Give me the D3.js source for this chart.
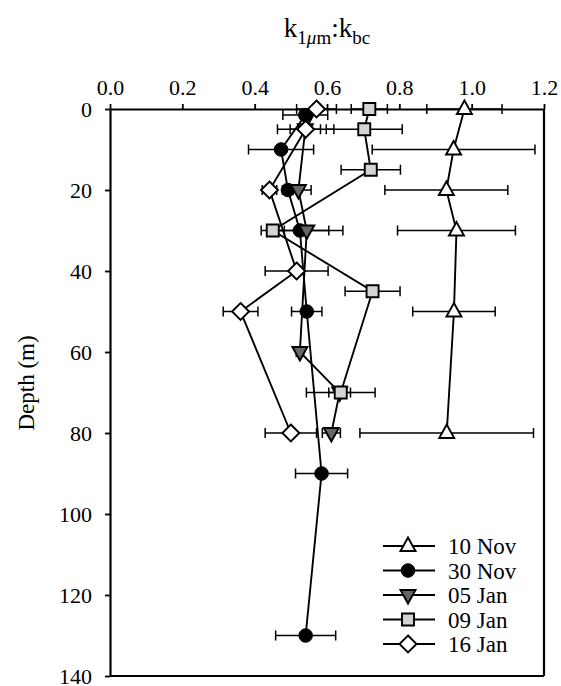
<!DOCTYPE html>
<html>
<head>
<meta charset="utf-8">
<script src="https://cdn.jsdelivr.net/npm/d3@7"></script>
<style>
  body { margin: 0; background: #fff; }
  text { font-family: "Liberation Serif", "Times New Roman", serif; }
</style>
</head>
<body>
<div id="graph"></div>
<script>
"use strict";

var width = 561,
    height = 686;

// depths (m) and k ratios
const seriesNames = ["10 Nov", "30 Nov", "05 Jan", "09 Jan", "16 Jan"];

const depth10Nov = [0, 10, 20, 30, 50, 80];
const val10Nov   = [0.98, 0.95, 0.93, 0.958, 0.951, 0.931];
const err10Nov   = [0.104, 0.225, 0.17, 0.163, 0.114, 0.24];

const depth30Nov = [1.5, 10, 20, 30, 50, 90, 130];
const val30Nov   = [0.54, 0.473, 0.492, 0.525, 0.544, 0.585, 0.541];
const err30Nov   = [0.062, 0.09, 0.015, 0.08, 0.042, 0.072, 0.083];

const depth05Jan = [5, 20, 30, 60, 70, 80];
const val05Jan   = [0.54, 0.521, 0.544, 0.525, 0.635, 0.612];
const err05Jan   = [0.042, 0.035, 0.1, 0.01, 0.03, 0.025];

const depth09Jan = [0, 5, 15, 30, 45, 70];
const val09Jan   = [0.717, 0.703, 0.721, 0.45, 0.726, 0.638];
const err09Jan   = [0.05, 0.105, 0.082, 0.032, 0.076, 0.095];

const depth16Jan = [0, 5, 20, 40, 50, 80];
const val16Jan   = [0.571, 0.541, 0.441, 0.516, 0.361, 0.5];
const err16Jan   = [0.055, 0.078, 0.02, 0.087, 0.048, 0.071];

const xTicks = [0, 0.2, 0.4, 0.6, 0.8, 1.0, 1.2];
const yTicks = [0, 20, 40, 60, 80, 100, 120, 140];

function zip(d, v, e) {
    return d.map((dd, i) => ({depth: dd, val: v[i], err: e[i]}));
}

const series = [
    {name: seriesNames[0], shape: "triUp",   fill: "#fff",    pts: zip(depth10Nov, val10Nov, err10Nov)},
    {name: seriesNames[1], shape: "circle",  fill: "#000",    pts: zip(depth30Nov, val30Nov, err30Nov)},
    {name: seriesNames[2], shape: "triDown", fill: "#666",    pts: zip(depth05Jan, val05Jan, err05Jan)},
    {name: seriesNames[3], shape: "square",  fill: "#d4d4d4", pts: zip(depth09Jan, val09Jan, err09Jan)},
    {name: seriesNames[4], shape: "diamond", fill: "#fff",    pts: zip(depth16Jan, val16Jan, err16Jan)}
];

const serif = "'Liberation Serif', 'Times New Roman', serif";
const margin = {left: 110, right: 17, top: 109};
const plotW = width - margin.left - margin.right,
      plotH = 676 - margin.top;

let svg = d3.select("#graph")
    .append("svg")
    .attr("width", width)
    .attr("height", height)
    .attr("font-family", serif);

let xScale = d3.scaleLinear().domain([0, 1.2]).range([0, plotW]);
let yScale = d3.scaleLinear().domain([0, 140]).range([0, plotH]);

let g = svg.append("g").attr("transform", `translate(${margin.left},${margin.top})`);

// frame on right/bottom
g.append("line").attr("x1", plotW).attr("x2", plotW).attr("y1", 0).attr("y2", plotH)
    .attr("stroke", "#000").attr("stroke-width", 2.2);
g.append("line").attr("x1", 0).attr("x2", plotW).attr("y1", plotH).attr("y2", plotH)
    .attr("stroke", "#000").attr("stroke-width", 2.2);

let xAxis = g.append("g")
    .call(d3.axisTop(xScale).tickValues(xTicks).tickFormat(d3.format(".1f"))
        .tickSize(5).tickSizeOuter(0).tickPadding(9));
let yAxis = g.append("g")
    .call(d3.axisLeft(yScale).tickValues(yTicks)
        .tickSize(5).tickSizeOuter(0).tickPadding(13));

[xAxis, yAxis].forEach(a => {
    a.attr("font-family", serif).attr("font-size", 22);
    a.select(".domain").attr("stroke-width", 2.2);
    a.selectAll(".tick line").attr("stroke-width", 1.8);
    a.selectAll("text").attr("fill", "#000");
});

// title
let title = svg.append("text")
    .attr("x", 327).attr("y", 37)
    .attr("text-anchor", "middle")
    .attr("font-size", 27);
title.append("tspan").text("k");
title.append("tspan").attr("font-size", 19).attr("dy", 7).text("1");
title.append("tspan").attr("font-size", 19).attr("font-style", "italic").text("μ");
title.append("tspan").attr("font-size", 19).text("m");
title.append("tspan").attr("dy", -7).text(":k");
title.append("tspan").attr("font-size", 19).attr("dy", 7).text("bc");

// y label
svg.append("text")
    .attr("transform", "translate(34,383) rotate(-90)")
    .attr("text-anchor", "middle")
    .attr("font-size", 23)
    .text("Depth (m)");

function symbolPath(shape) {
    if (shape == "triUp") return "M0,-8.5L7.5,5L-7.5,5Z";
    if (shape == "triDown") return "M0,8.5L7.5,-5L-7.5,-5Z";
    if (shape == "square") return "M-6,-6H6V6H-6Z";
    if (shape == "diamond") return "M0,-8.5L8.5,0L0,8.5L-8.5,0Z";
    return null;
}

function drawMarker(sel, shape, fill) {
    if (shape == "circle") {
        sel.append("circle").attr("r", 6.8).attr("fill", fill)
            .attr("stroke", "#000").attr("stroke-width", 1);
    } else {
        sel.append("path").attr("d", symbolPath(shape)).attr("fill", fill)
            .attr("stroke", "#000").attr("stroke-width", 1.9)
            .attr("stroke-linejoin", "miter");
    }
}

let line = d3.line().x(d => xScale(d.val)).y(d => yScale(d.depth));

series.forEach(s => {
    let sg = g.append("g").attr("class", "series");
    sg.append("path").datum(s.pts).attr("d", line)
        .attr("fill", "none").attr("stroke", "#000").attr("stroke-width", 1.9);

    let eb = sg.selectAll(".err").data(s.pts).enter().append("g");
    eb.append("line")
        .attr("x1", d => xScale(d.val - d.err)).attr("x2", d => xScale(d.val + d.err))
        .attr("y1", d => yScale(d.depth)).attr("y2", d => yScale(d.depth))
        .attr("stroke", "#000").attr("stroke-width", 1.5);
    [-1, 1].forEach(sgn => {
        eb.append("line")
            .attr("x1", d => xScale(d.val + sgn * d.err)).attr("x2", d => xScale(d.val + sgn * d.err))
            .attr("y1", d => yScale(d.depth) - 5).attr("y2", d => yScale(d.depth) + 5)
            .attr("stroke", "#000").attr("stroke-width", 1.5);
    });

    sg.selectAll(".mk").data(s.pts).enter().append("g")
        .attr("transform", d => `translate(${xScale(d.val)},${yScale(d.depth)})`)
        .each(function () { drawMarker(d3.select(this), s.shape, s.fill); });
});

// legend
let legend = svg.append("g");
series.forEach((s, i) => {
    let ly = 546 + i * 24.5;
    let row = legend.append("g").attr("transform", `translate(0,${ly})`);
    row.append("line").attr("x1", 383).attr("x2", 435).attr("y1", 0).attr("y2", 0)
        .attr("stroke", "#000").attr("stroke-width", 1.9);
    let m = row.append("g").attr("transform", "translate(408,0)");
    drawMarker(m, s.shape, s.fill);
    row.append("text").attr("x", 448).attr("y", 0).attr("dy", "0.35em")
        .attr("font-size", 23).text(s.name);
});
</script>
</body>
</html>
